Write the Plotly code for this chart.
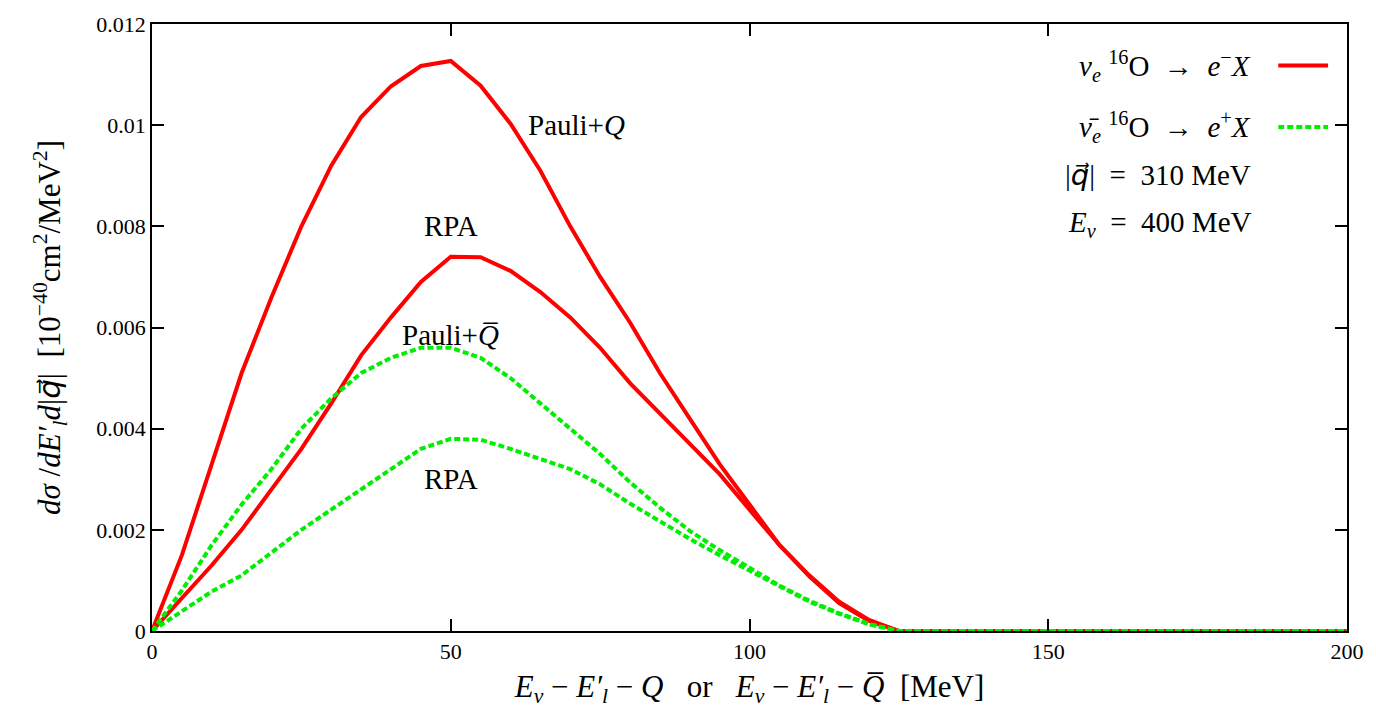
import plotly.graph_objects as go

# ---------------- data ----------------
energy = [0, 5, 10, 15, 20, 25, 30, 35, 40, 45, 50, 55, 60, 65, 70, 75, 80, 85, 90, 95,
          100, 105, 110, 115, 120, 125, 130, 135, 140, 145, 150, 155, 160, 165, 170, 175,
          180, 185, 190, 195, 200]

nu_pauli = [0, 0.0015, 0.0033, 0.0051, 0.0066, 0.0080, 0.0092, 0.01016, 0.01077, 0.01117,
            0.01127, 0.01078, 0.01003, 0.0091, 0.0080, 0.0070, 0.0061, 0.0051, 0.0042, 0.0033,
            0.0025, 0.0017, 0.0011, 0.00058, 0.00022, 0, 0, 0, 0, 0, 0, 0, 0, 0, 0, 0,
            0, 0, 0, 0, 0]

nu_rpa = [0, 0.00065, 0.0013, 0.0020, 0.0028, 0.0036, 0.0045, 0.00545, 0.0062, 0.0069,
          0.0074, 0.00739, 0.00712, 0.0067, 0.0062, 0.0056, 0.0049, 0.0043, 0.0037, 0.0031,
          0.0024, 0.0017, 0.00108, 0.00055, 0.0002, 0, 0, 0, 0, 0, 0, 0, 0, 0, 0, 0,
          0, 0, 0, 0, 0]

nubar_pauli = [0, 0.0008, 0.0017, 0.0025, 0.0032, 0.0040, 0.0046, 0.0051, 0.0054, 0.0056,
               0.0056, 0.0054, 0.0050, 0.0045, 0.0040, 0.0035, 0.00294, 0.00244, 0.00198, 0.0016,
               0.00125, 0.0009, 0.0006, 0.00035, 0.00014, 0, 0, 0, 0, 0, 0, 0, 0, 0, 0, 0,
               0, 0, 0, 0, 0]

nubar_rpa = [0, 0.0004, 0.00078, 0.0011, 0.00155, 0.0020, 0.0024, 0.0028, 0.0032, 0.0036,
             0.0038, 0.00378, 0.0036, 0.0034, 0.0032, 0.0029, 0.00252, 0.00217, 0.00182, 0.0015,
             0.0012, 0.00088, 0.00058, 0.00034, 0.00013, 0, 0, 0, 0, 0, 0, 0, 0, 0, 0, 0,
             0, 0, 0, 0, 0]

x_ticks = [0, 50, 100, 150, 200]
x_ticklabels = ["0", "50", "100", "150", "200"]
y_ticks = [0, 0.002, 0.004, 0.006, 0.008, 0.010, 0.012]
y_ticklabels = ["0", "0.002", "0.004", "0.006", "0.008", "0.01", "0.012"]

RED = "#ff0000"
GREEN = "#00ee00"
FONT = "Liberation Serif, DejaVu Serif, serif"

# vector q (arrow rendered with a font that has the combining arrow)
QVEC = "<span style=\"font-family:'DejaVu Sans'\"><i>q⃗</i></span>"

fig = go.Figure()
for yv in (nu_pauli, nu_rpa):
    fig.add_trace(go.Scatter(x=energy, y=yv, mode="lines",
                             line=dict(color=RED, width=4), showlegend=False))
for yv in (nubar_pauli, nubar_rpa):
    fig.add_trace(go.Scatter(x=energy, y=yv, mode="lines",
                             line=dict(color=GREEN, width=4, dash="6px,3px"), showlegend=False))

axis_common = dict(showline=True, linecolor="black", linewidth=1.5, mirror="ticks",
                   ticks="inside", ticklen=12, tickwidth=1.5, tickcolor="black",
                   showgrid=False, zeroline=False,
                   tickfont=dict(family=FONT, size=22, color="black"))

fig.update_xaxes(range=[0, 200], tickvals=x_ticks, ticktext=x_ticklabels,
                 title=dict(text="<i>E<sub>ν</sub></i> − <i>E′<sub>l</sub></i> − <i>Q</i>"
                                 "   or   <i>E<sub>ν</sub></i> − <i>E′<sub>l</sub></i> − <i>Q̅</i>  [MeV]",
                            font=dict(family=FONT, size=31, color="black"), standoff=12),
                 **axis_common)
fig.update_yaxes(range=[0, 0.012], tickvals=y_ticks, ticktext=y_ticklabels,
                 title=dict(text="<i>dσ</i> /<i>dE′<sub>l</sub>d</i>|" + QVEC + "|  "
                                 "[10<sup>−40</sup>cm<sup>2</sup>/MeV<sup>2</sup>]",
                            font=dict(family=FONT, size=31, color="black"), standoff=26),
                 **axis_common)

# curve labels
labels = [(71, 0.0100, "Pauli+<i>Q</i>"),
          (50, 0.0080, "RPA"),
          (50, 0.00585, "Pauli+<i>Q̅</i>"),
          (50, 0.0030, "RPA")]
for lx, ly, lt in labels:
    fig.add_annotation(x=lx, y=ly, text=lt, showarrow=False,
                       font=dict(family=FONT, size=29, color="black"))

# legend / info block (paper coordinates)
def px2paper(px, py):
    return (px - 152) / 1200, (631 - py) / 613

info = [(60, "<i>ν<sub>e</sub></i> <sup>16</sup>O  →  <i>e</i><sup>−</sup><i>X</i>"),
        (122, "<i>ν̄<sub>e</sub></i> <sup>16</sup>O  →  <i>e</i><sup>+</sup><i>X</i>"),
        (170, "|" + QVEC + "|  =  310 MeV"),
        (220, "<i>E<sub>ν</sub></i>  =  400 MeV")]
for py, txt in info:
    xp, yp = px2paper(1258, py)
    fig.add_annotation(x=xp, y=yp, xref="paper", yref="paper", xanchor="right",
                       yanchor="middle", text=txt, showarrow=False,
                       font=dict(family=FONT, size=29, color="black"))

x0, y1 = px2paper(1283, 60)
x1, _ = px2paper(1333, 60)
fig.add_shape(type="line", xref="paper", yref="paper", x0=x0, x1=x1, y0=y1, y1=y1,
              line=dict(color=RED, width=4))
_, y2 = px2paper(1283, 122)
fig.add_shape(type="line", xref="paper", yref="paper", x0=x0, x1=x1, y0=y2, y1=y2,
              line=dict(color=GREEN, width=4, dash="6px,3px"))

fig.update_layout(width=1376, height=721,
                  margin=dict(l=152, r=24, t=18, b=90),
                  plot_bgcolor="white", paper_bgcolor="white",
                  font=dict(family=FONT, color="black"))

fig.write_html("out.html")
